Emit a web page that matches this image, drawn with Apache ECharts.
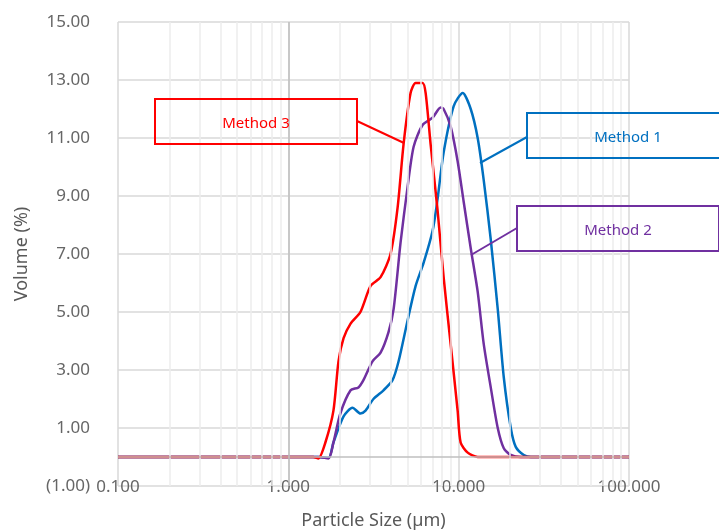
<!DOCTYPE html>
<html>
<head>
<meta charset="utf-8">
<script src="https://cdn.jsdelivr.net/npm/echarts@6/dist/echarts.min.js"></script>
<style>
  html, body { margin: 0; padding: 0; background: #fff; }
  #chart { width: 719px; height: 531px; }
</style>
</head>
<body>
<div id="chart"></div>
<script>
// particle size (um) and volume (%)
const sizeM1 = [0.1, 1.50, 1.72, 1.84, 2.11, 2.38, 2.65, 2.84, 3.16, 3.62, 4.09, 4.44, 5.01, 5.59, 6.23, 7.03, 7.52, 8.16, 9.35, 10.56, 11.77, 12.93, 14.03, 15.43, 16.96, 18.40, 20.23, 21.63, 24.12, 26.51, 100]
const volM1 = [0, 0, -0.03, 0.5, 1.4, 1.7, 1.5, 1.6, 2.0, 2.3, 2.65, 3.3, 4.7, 5.9, 6.7, 7.8, 8.9, 10.5, 12.1, 12.55, 12.0, 11.0, 9.55, 7.5, 5.1, 2.75, 1.0, 0.35, 0.07, 0, 0]

const sizeM2 = [0.1, 1.50, 1.72, 1.84, 2.02, 2.32, 2.58, 2.76, 3.12, 3.48, 3.87, 4.15, 4.56, 5.01, 5.44, 6.14, 7.03, 7.84, 8.16, 8.97, 9.86, 10.70, 11.77, 12.93, 14.03, 15.43, 16.96, 18.40, 20.23, 23.16, 100]
const volM2 = [0, 0, -0.05, 0.5, 1.5, 2.3, 2.4, 2.65, 3.3, 3.6, 4.3, 5.1, 7.4, 9.3, 10.7, 11.45, 11.7, 12.05, 12.0, 11.4, 10.2, 8.8, 7.2, 5.7, 3.9, 2.4, 1.0, 0.3, 0.07, 0, 0]

const sizeM3 = [0.1, 1.40, 1.50, 1.65, 1.84, 1.97, 2.11, 2.32, 2.65, 3.04, 3.48, 3.98, 4.38, 4.75, 5.22, 5.59, 6.14, 6.40, 6.84, 7.52, 8.16, 8.97, 9.86, 10.27, 11.30, 12.93, 100]
const volM3 = [0, 0, -0.05, 0.5, 1.6, 3.3, 4.1, 4.6, 5.0, 5.9, 6.2, 7.0, 8.6, 10.8, 12.55, 12.9, 12.9, 12.55, 10.8, 8.5, 6.2, 3.9, 1.6, 0.5, 0.15, 0, 0]

const seriesNames = ['Method 1', 'Method 2', 'Method 3']
const colors = ['#0070C0', '#7030A0', '#FF0000']
const minorGrid = [0.2, 0.3, 0.4, 0.5, 0.6, 0.7, 0.8, 0.9, 2, 3, 4, 5, 6, 7, 8, 9, 20, 30, 40, 50, 60, 70, 80, 90]

const pairs = (xs, ys) => xs.map((x, i) => [x, ys[i]])

const myChart = echarts.init(document.getElementById('chart'))

const font = '"Noto Sans", sans-serif'
const gridLines = minorGrid.map(v => ({ xAxis: v }))
gridLines.push({ xAxis: 1, lineStyle: { color: '#bfbfbf', width: 1.5, type: 'solid' } })
gridLines.push({ yAxis: 0, lineStyle: { color: '#bfbfbf', width: 1.5, type: 'solid' } })

function callout(name, color, box, from, to) {
    return [
        {
            type: 'rect',
            shape: { x: box[0], y: box[1], width: 202, height: 45 },
            style: { fill: 'none', stroke: color, lineWidth: 2 },
            z: 100
        },
        {
            type: 'text',
            style: {
                text: name, x: box[0] + 101, y: box[1] + 25,
                fill: color, font: '15px ' + font,
                align: 'center', verticalAlign: 'middle'
            },
            z: 100
        },
        {
            type: 'line',
            shape: { x1: from[0], y1: from[1], x2: to[0], y2: to[1] },
            style: { stroke: color, lineWidth: 2 },
            z: 100
        }
    ]
}

function methodSeries(i, xs, ys) {
    return {
        name: seriesNames[i],
        type: 'line',
        smooth: 0.25,
        symbol: 'none',
        lineStyle: { color: colors[i], width: 2.5 },
        data: pairs(xs, ys)
    }
}

let option = {
    animation: false,
    backgroundColor: '#fff',
    grid: { left: 118, right: 90, top: 22, bottom: 45, containLabel: false, outerBoundsMode: 'none' },
    xAxis: {
        type: 'log',
        logBase: 10,
        min: 0.1,
        max: 100,
        name: 'Particle Size (µm)',
        nameLocation: 'middle',
        nameGap: 26,
        nameTextStyle: { color: '#595959', fontSize: 18, fontFamily: font },
        axisLine: { show: false },
        axisTick: { show: false },
        axisLabel: {
            color: '#666666', fontSize: 17, fontFamily: font, margin: -7,
            showMinLabel: true, showMaxLabel: true,
            formatter: v => Number(v).toFixed(3)
        },
        splitLine: { show: true, lineStyle: { color: '#d9d9d9', width: 1.5 } }
    },
    yAxis: {
        type: 'value',
        min: -1,
        max: 15,
        interval: 2,
        name: 'Volume (%)',
        nameLocation: 'middle',
        nameGap: 87,
        nameTextStyle: { color: '#595959', fontSize: 18, fontFamily: font },
        axisLine: { show: false },
        axisTick: { show: false },
        axisLabel: {
            color: '#666666', fontSize: 17, fontFamily: font, margin: 28,
            formatter: v => v < 0 ? '(' + Math.abs(v).toFixed(2) + ')' : v.toFixed(2)
        },
        splitLine: { show: true, lineStyle: { color: '#d9d9d9', width: 1.5 } }
    },
    series: [
        {
            name: 'grid',
            type: 'line',
            z: 1,
            silent: true,
            symbol: 'none',
            lineStyle: { opacity: 0 },
            data: [[1, 0]],
            markLine: {
                silent: true,
                symbol: 'none',
                label: { show: false },
                lineStyle: { color: '#ececec', width: 1.5, type: 'solid' },
                data: gridLines
            }
        },
        methodSeries(0, sizeM1, volM1),
        methodSeries(1, sizeM2, volM2),
        methodSeries(2, sizeM3, volM3)
    ],
    graphic: [].concat(
        callout(seriesNames[0], colors[0], [527, 113], [527, 137], [480, 163]),
        callout(seriesNames[1], colors[1], [517, 206], [517, 228], [471, 255]),
        callout(seriesNames[2], colors[2], [155, 99], [357, 121], [404, 143])
    )
}

myChart.setOption(option)
</script>
</body>
</html>
